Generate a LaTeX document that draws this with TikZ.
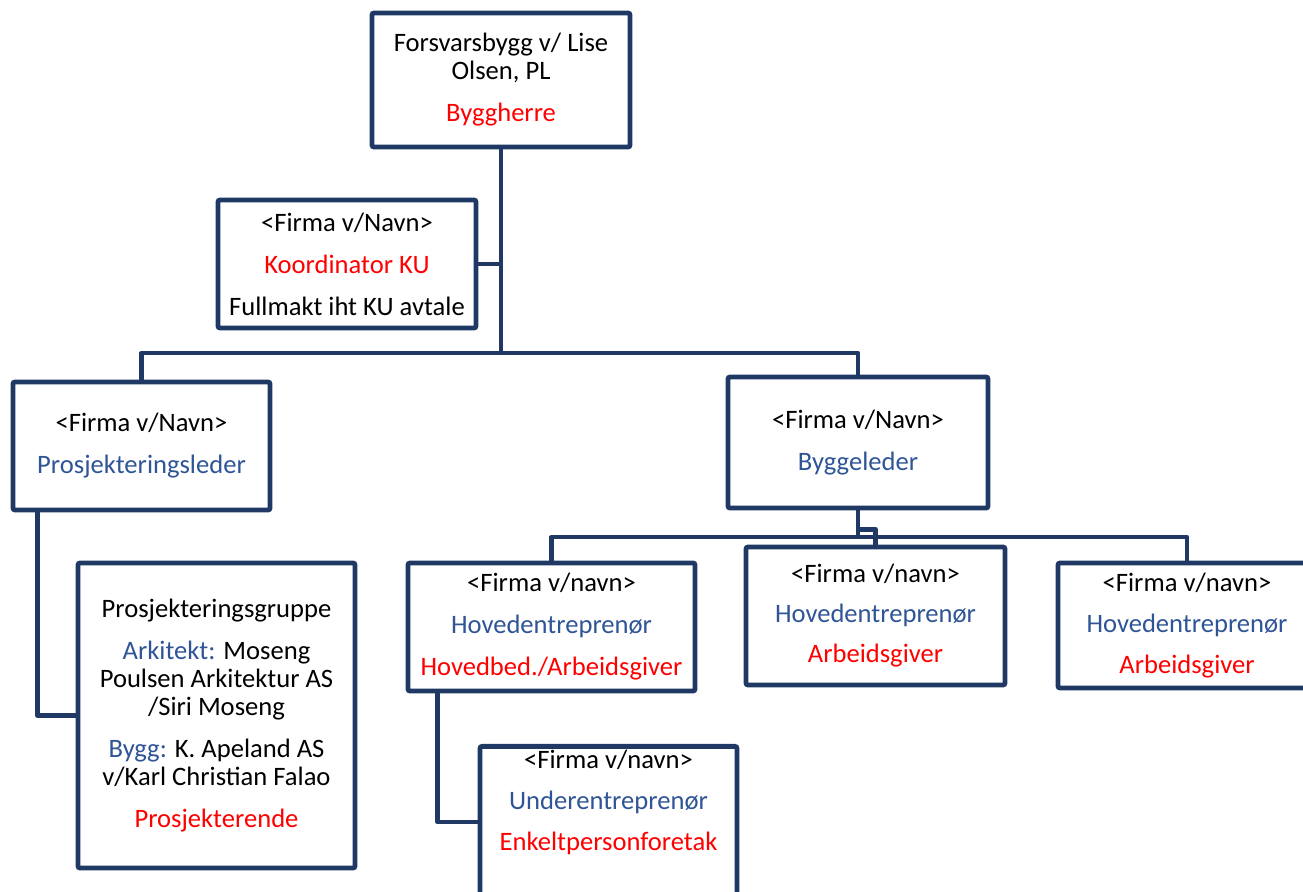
\documentclass[tikz,border=0pt]{standalone}
\usepackage{fontspec}
\setmainfont{Carlito}
\usetikzlibrary{positioning}
\definecolor{linjeblaa}{RGB}{31,56,100}
\definecolor{tittel}{RGB}{47,85,151}
\definecolor{rolle}{RGB}{255,0,0}

\begin{document}
\begin{tikzpicture}[x=0.5pt,y=-0.5pt,
  boks/.style={draw=linjeblaa, line width=2.4pt, fill=white, rounded corners=1pt,
    align=center, inner sep=2pt, font=\fontsize{13.3}{14}\selectfont},
  strek/.style={draw=linjeblaa, line width=2.4pt, line join=round}]
\useasboundingbox (0,0) rectangle (1303,892);
\clip (0,0) rectangle (1303,892);

% boksene
\node[boks, minimum width=129pt, minimum height=67pt] (byggherre) at (501,80)
  {Forsvarsbygg v/ Lise\\Olsen, PL\\[7pt]\textcolor{rolle}{Byggherre}};
\node[boks, minimum width=129pt, minimum height=64pt] (koord) at (347,264)
  {<Firma v/Navn>\\[7pt]\textcolor{rolle}{Koordinator KU}\\[7pt]Fullmakt iht KU avtale};
\node[boks, minimum width=128.5pt, minimum height=64pt] (pleder) at (141.5,446)
  {<Firma v/Navn>\\[7pt]\textcolor{tittel}{Prosjekteringsleder}};
\node[boks, minimum width=130pt, minimum height=65.5pt] (bleder) at (858,442.5)
  {<Firma v/Navn>\\[7pt]\textcolor{tittel}{Byggeleder}};
\node[boks, minimum width=138.5pt, minimum height=152.5pt] (gruppe) at (216.5,715.5)
  {Prosjekteringsgruppe\\[7pt]\textcolor{tittel}{Arkitekt:} Moseng\\Poulsen Arkitektur AS\\/Siri Moseng\\[7pt]%
   \textcolor{tittel}{Bygg:} K. Apeland AS\\v/Karl Christian Falao\\[7pt]\textcolor{rolle}{Prosjekterende}};
\node[boks, minimum width=143.5pt, minimum height=64pt] (hleft) at (551.5,627)
  {<Firma v/navn>\\[7pt]\textcolor{tittel}{Hovedentreprenør}\\[7pt]\textcolor{rolle}{Hovedbed./Arbeidsgiver}};
\node[boks, minimum width=129.5pt, minimum height=69pt] (hmid) at (875.5,616)
  {<Firma v/navn>\\[6pt]\textcolor{tittel}{Hovedentreprenør}\\[6pt]\textcolor{rolle}{Arbeidsgiver}};
\node[boks, minimum width=129pt, minimum height=62.5pt] (hright) at (1187,625.5)
  {<Firma v/navn>\\[6.5pt]\textcolor{tittel}{Hovedentreprenør}\\[6.5pt]\textcolor{rolle}{Arbeidsgiver}};
\node[boks, minimum width=128.5pt, anchor=north] (under) at (608.5,744)
  {<Firma v/navn>\\[6.5pt]\textcolor{tittel}{Underentreprenør}\\[6.5pt]\textcolor{rolle}{Enkeltpersonforetak}\\[50pt]\mbox{}};

% linjene
\coordinate (knute) at (501,353);
\coordinate (knute2) at (858,537);
\draw[strek] (byggherre.south) -- (knute);
\draw[strek] (koord.east) -- (koord.east -| byggherre.south);
\draw[strek] (pleder.north) |- (knute) -| (bleder.north);
\draw[strek] ([xshift=13.5pt]pleder.south west) |- (gruppe.west);
\draw[strek] (bleder.south) -- (knute2);
\draw[strek] (hleft.north) |- (knute2) -| (hright.north);
\draw[strek] ([yshift=-9.5pt]bleder.south) -| (hmid.north);
\draw[strek] ([xshift=16pt]hleft.south west) |- ([yshift=-39pt]under.north west);
\end{tikzpicture}
\end{document}
